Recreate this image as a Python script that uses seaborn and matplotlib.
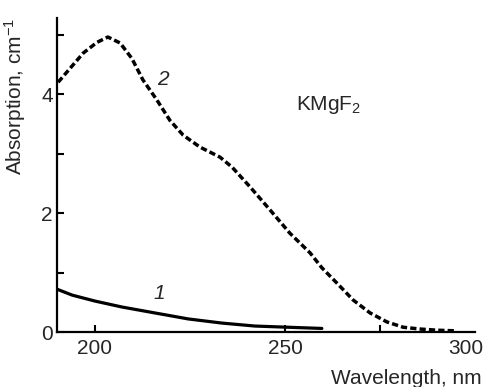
import matplotlib
matplotlib.use("Agg")
import matplotlib.pyplot as plt
from matplotlib.transforms import ScaledTranslation
import seaborn as sns

# curva 1 (linha contínua)
wl_1 = [190, 194, 200, 207.1, 215.8, 224.5, 233.4, 242.1, 250.8, 259.7]
abs_1 = [0.72, 0.62, 0.52, 0.42, 0.32, 0.22, 0.15, 0.10, 0.08, 0.06]

# curva 2 (tracejada)
wl_2 = [190.3, 196.9, 200.5, 203.4, 206.6, 209.7, 212.6, 216.3, 219.7, 223.2,
        227.6, 232.9, 236.1, 240.8, 246.1, 251.3, 256.6, 259.7, 263.7, 267.9,
        272.4, 276.8, 281.1, 285.5, 290.0, 294.7]
abs_2 = [4.20, 4.69, 4.87, 4.96, 4.86, 4.60, 4.24, 3.90, 3.56, 3.31,
         3.11, 2.94, 2.77, 2.44, 2.05, 1.66, 1.33, 1.08, 0.82, 0.54,
         0.32, 0.17, 0.08, 0.05, 0.03, 0.02]

x_ticks = [200, 250, 275, 300]
x_tick_labels = ["200", "250", "", "300"]
y_ticks = [0, 1, 2, 3, 4, 5]
y_tick_labels = ["0", "", "2", "", "4", ""]

sns.set_style("ticks")
plt.rcParams["font.family"] = ["Liberation Sans", "DejaVu Sans"]
plt.rcParams["mathtext.fontset"] = "custom"
plt.rcParams["mathtext.rm"] = "Liberation Sans"
plt.rcParams["mathtext.it"] = "Liberation Sans:italic"

fs = 15

fig = plt.figure(figsize=(4.88, 3.87), dpi=100)
ax = fig.add_axes([57 / 488, 1 - 332 / 387, (475 - 57) / 488, (332 - 18) / 387])

sns.lineplot(x=wl_1, y=abs_1, ax=ax, color="black", lw=2.3, sort=False)
sns.lineplot(x=wl_2, y=abs_2, ax=ax, color="black", lw=2.5, sort=False,
             linestyle=(0, (1.8, 0.9)))

ax.set_xlim(190, 300)
ax.set_ylim(0, 5.28)

ax.set_xticks(x_ticks)
ax.set_xticklabels(x_tick_labels)
ax.set_yticks(y_ticks)
ax.set_yticklabels(y_tick_labels)
ax.xaxis.get_major_ticks()[3].tick1line.set_visible(False)

ax.tick_params(direction="in", width=1.5, length=5, labelsize=fs, color="black")
ax.tick_params(axis="x", pad=5)
ax.tick_params(axis="y", pad=3)

# o rótulo "300" fica um pouco à esquerda do fim do eixo
lbl = ax.get_xticklabels()[3]
lbl.set_transform(lbl.get_transform() + ScaledTranslation(-0.09, 0, fig.dpi_scale_trans))

for s in ["top", "right"]:
    ax.spines[s].set_visible(False)
for s in ["left", "bottom"]:
    ax.spines[s].set_linewidth(1.6)
    ax.spines[s].set_color("black")

ax.set_xlabel("")
ax.set_ylabel("")

# rótulos das curvas
ax.text(217.9, 4.25, "2", fontsize=fs, style="italic", ha="center", va="center")
ax.text(216.8, 0.64, "1", fontsize=fs, style="italic", ha="center", va="center")
ax.text(253.0, 3.82, "KMgF$_2$", fontsize=fs, ha="left", va="center")

fig.text(15 / 488, 1 - 96 / 387, "Absorption, cm$^{-1}$", rotation=90,
         fontsize=fs, ha="center", va="center")
fig.text(482 / 488, 1 - 378 / 387, "Wavelength, nm", fontsize=fs,
         ha="right", va="center")

fig.savefig("out.png", dpi=100)
